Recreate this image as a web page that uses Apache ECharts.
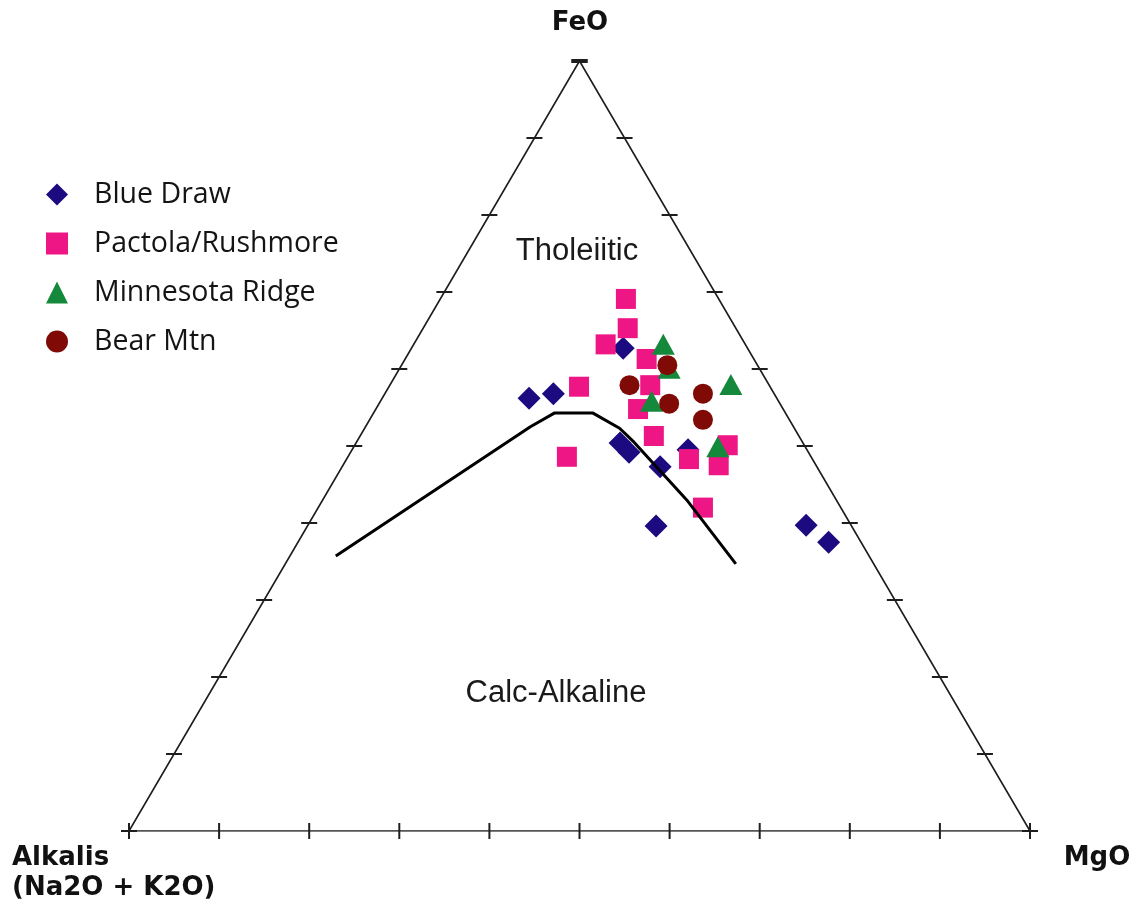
<!DOCTYPE html>
<html>
<head>
<meta charset="utf-8">
<script src="https://cdn.jsdelivr.net/npm/echarts@6/dist/echarts.min.js"></script>
<style>
  html, body { margin: 0; padding: 0; background: #ffffff; }
  #chart { width: 1139px; height: 909px; }
</style>
</head>
<body>
<div id="chart"></div>
<script>
// AFM ternary diagram. Every sample is [FeO, MgO, Alkalis] in percent.
const blueDraw = [
  [56.2, 16.3, 27.5], [56.8, 18.7, 24.5], [62.7, 23.5, 13.8], [50.4, 29.3, 20.3],
  [49.2, 30.9, 19.9], [47.3, 35.3, 17.4], [49.5, 37.3, 13.2], [39.6, 38.7, 21.7],
  [39.7, 55.3, 5.0], [37.5, 58.9, 3.6]
];
const pactolaRushmore = [
  [69.1, 20.6, 10.3], [65.3, 22.7, 12.0], [63.2, 21.3, 15.5], [61.3, 26.8, 11.9],
  [57.7, 21.1, 21.2], [57.9, 28.9, 13.2], [54.8, 29.1, 16.1], [51.3, 32.6, 16.1],
  [48.6, 24.3, 27.1], [48.3, 38.0, 13.7], [47.5, 41.7, 10.8], [50.1, 41.4, 8.5],
  [42.0, 42.7, 15.3]
];
const minnesotaRidge = [
  [63.2, 27.7, 9.1], [60.1, 29.9, 10.0], [55.8, 30.1, 14.1], [58.0, 37.8, 4.2],
  [49.9, 40.4, 9.7]
];
const bearMtn = [
  [60.5, 29.5, 10.0], [57.9, 26.6, 15.5], [55.5, 32.2, 12.3], [56.8, 35.3, 7.9],
  [53.4, 37.0, 9.6]
];
// Tholeiitic / calc-alkaline dividing curve
const boundary = [
  [35.7, 5.1, 59.2], [52.5, 18.3, 29.2], [54.3, 20.1, 25.6], [54.3, 24.3, 21.4],
  [52.3, 28.3, 19.4], [50.5, 30.8, 18.7], [45.8, 36.8, 17.4], [43.0, 40.4, 16.6],
  [34.7, 50.0, 15.3]
];
// Apexes of the diagram
const apexFeO = [100, 0, 0];
const apexMgO = [0, 100, 0];
const apexAlk = [0, 0, 100];
// Tick steps along each side, percent
const tickSteps = [0, 10, 20, 30, 40, 50, 60, 70, 80, 90, 100];

// Ternary composition -> plotting plane (x across the base, y = FeO height)
function toXY(p) {
  const feo = p[0], mgo = p[1];
  return [mgo + feo / 2, feo];
}

// tick items: [x, y, orientation]  0 = vertical, 1 = horizontal
const ticks = [];
tickSteps.forEach(function (t) {
  const b = toXY([0, t, 100 - t]);           // base (Alkalis - MgO)
  ticks.push([b[0], b[1], 0]);
  const l = toXY([t, 0, 100 - t]);           // left side (Alkalis - FeO)
  ticks.push([l[0], l[1], 1]);
  const r = toXY([t, 100 - t, 0]);           // right side (MgO - FeO)
  ticks.push([r[0], r[1], 1]);
});

const chart = echarts.init(document.getElementById('chart'), null, { renderer: 'canvas' });

const markerSeries = function (name, data, symbol, size, color) {
  return {
    name: name,
    type: 'scatter',
    data: data.map(toXY),
    symbol: symbol,
    symbolSize: size,
    itemStyle: { color: color, opacity: 1 },
    emphasis: { disabled: true },
    z: 3
  };
};

const labelFont = 'bold 26px "DejaVu Sans", Verdana, sans-serif';
const regionFont = '31px "Liberation Sans", Arial, sans-serif';

function label(text, x, y, align, font, color) {
  return {
    type: 'text', x: x, y: y,
    style: {
      text: text, font: font, fill: color,
      textAlign: align, textVerticalAlign: 'middle', align: align, verticalAlign: 'middle'
    }
  };
}

chart.setOption({
  animation: false,
  backgroundColor: '#ffffff',
  grid: { left: 129, right: 109, top: 61, bottom: 78, containLabel: false },
  xAxis: { type: 'value', min: 0, max: 100, show: false },
  yAxis: { type: 'value', min: 0, max: 100, show: false },
  legend: {
    orient: 'vertical',
    left: 41,
    top: 175,
    itemWidth: 22,
    itemHeight: 22,
    itemGap: 20,
    selectedMode: false,
    data: ['Blue Draw', 'Pactola/Rushmore', 'Minnesota Ridge', 'Bear Mtn'],
    textStyle: {
      fontFamily: '"Open Sans", sans-serif',
      fontSize: 28.5,
      color: '#141414',
      lineHeight: 22,
      padding: [0, 0, 0, 21]
    }
  },
  graphic: [
    label('FeO', 580, 23, 'center', labelFont, '#111'),
    label('MgO', 1097, 858, 'center', labelFont, '#111'),
    label('Alkalis', 12, 858, 'left', labelFont, '#111'),
    label('(Na2O + K2O)', 12, 888, 'left', labelFont, '#111'),
    label('Tholeiitic', 577, 251, 'center', regionFont, '#1a1a1a'),
    label('Calc-Alkaline', 556, 693, 'center', regionFont, '#1a1a1a')
  ],
  series: [
    {
      name: 'frame',
      type: 'line',
      data: [toXY(apexAlk), toXY(apexMgO), toXY(apexFeO), toXY(apexAlk)],
      symbol: 'none',
      lineStyle: { color: '#1e1e1e', width: 1.6 },
      silent: true,
      z: 1
    },
    {
      name: 'ticks',
      type: 'custom',
      data: ticks,
      encode: { x: 0, y: 1 },
      silent: true,
      z: 1,
      renderItem: function (params, api) {
        const pt = api.coord([api.value(0), api.value(1)]);
        const vertical = api.value(2) === 0;
        const apex = api.value(1) === 100;
        const len = 8;
        return {
          type: 'line',
          shape: vertical
            ? { x1: pt[0], y1: pt[1] - len, x2: pt[0], y2: pt[1] + len }
            : { x1: pt[0] - len, y1: pt[1], x2: pt[0] + len, y2: pt[1] },
          style: { stroke: '#1e1e1e', lineWidth: apex ? 4 : 2 }
        };
      }
    },
    markerSeries('Blue Draw', blueDraw, 'diamond', 23, '#1c0a80'),
    markerSeries('Pactola/Rushmore', pactolaRushmore, 'rect', 20, '#ee1585'),
    markerSeries('Minnesota Ridge', minnesotaRidge, 'triangle', [23, 21], '#15893b'),
    markerSeries('Bear Mtn', bearMtn, 'circle', 20, '#7f0a06'),
    {
      name: 'boundary',
      type: 'line',
      data: boundary.map(toXY),
      symbol: 'none',
      lineStyle: { color: '#000000', width: 3 },
      silent: true,
      z: 4
    }
  ]
});
</script>
</body>
</html>
